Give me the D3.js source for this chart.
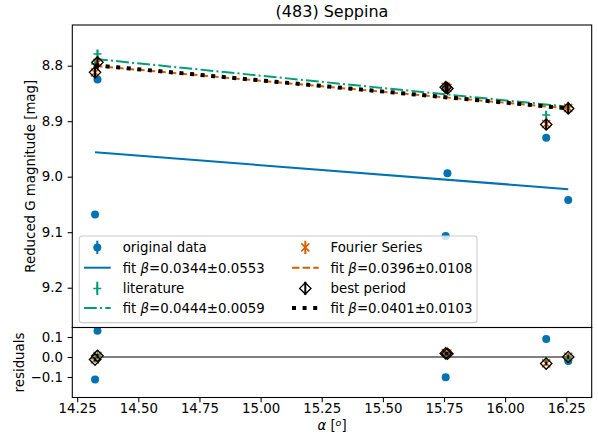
<!DOCTYPE html>
<html><head><meta charset="utf-8">
<script src="https://cdn.jsdelivr.net/npm/d3@7"></script>
<style>
body{margin:0;background:#fff}
svg{display:block}
text{font-family:"DejaVu Sans",sans-serif;fill:#000}
</style>
</head><body>
<svg id="chart" width="598" height="434"></svg>
<script>
// (483) Seppina: reduced G magnitude versus phase angle, with linear fits
const title = "(483) Seppina";
const alpha   = [14.323, 14.333, 15.757, 15.764, 16.168, 16.258];
const magOrig = [9.068, 8.825, 9.107, 8.994, 8.930, 9.042];
const errOrig = [0.003, 0.003, 0.003, 0.003, 0.003, 0.003];
const magLit  = [8.797, 8.779, 8.838, 8.840, 8.889, 8.874];
const errLit  = [0.007, 0.008, 0.007, 0.007, 0.008, 0.007];
const magFS   = [8.812, 8.795, 8.838, 8.840, 8.905, 8.876];
const errFS   = [0.011, 0.011, 0.011, 0.011, 0.011, 0.011];
const magBP   = [8.812, 8.794, 8.839, 8.841, 8.906, 8.877];
const errBP   = [0.009, 0.009, 0.009, 0.009, 0.009, 0.009];
// linear phase fits: mag = h + beta * alpha
const seriesNames = ["original data", "literature", "Fourier Series", "best period"];
const fitBeta = [0.0344, 0.0444, 0.0396, 0.0401];
const fitBetaErr = [0.0553, 0.0059, 0.0108, 0.0103];
const fitH = [8.4632, 8.1520, 8.2332, 8.2250];
const xTicks = [14.25, 14.50, 14.75, 15.00, 15.25, 15.50, 15.75, 16.00, 16.25];
const yTicksMain = [8.8, 8.9, 9.0, 9.1, 9.2];
const yTicksRes = [0.1, 0.0, -0.1];

const C = {blue:"#0072B2", green:"#009E73", orange:"#D55E00", black:"#000000", gray:"#808080"};
const series = [
  {mag: magOrig, err: errOrig, color: C.blue,   marker: "o", dash: null},
  {mag: magLit,  err: errLit,  color: C.green,  marker: "+", dash: "12.8,3.2,2,3.2"},
  {mag: magFS,   err: errFS,   color: C.orange, marker: "x", dash: "7.4,3.2"},
  {mag: magBP,   err: errBP,   color: C.black,  marker: "D", dash: "4,6.6"}
];
series.forEach((s, i) => {
  s.beta = fitBeta[i]; s.h = fitH[i];
  s.fit = a => s.h + s.beta * a;
  s.res = s.mag.map((m, j) => s.fit(alpha[j]) - m);
  s.lw = i === 3 ? 4 : 2;
});

const svg = d3.select("#chart");
const L = 72.3, R = 591.7, T1 = 25, B1 = 327.5, T2 = 327.5, B2 = 397.5;
const x = d3.scaleLinear().domain([14.23, 16.354]).range([L, R]);
const y = d3.scaleLinear().domain([8.7267, 9.2717]).range([T1, B1]);
const yr = d3.scaleLinear().domain([0.1475, -0.2025]).range([T2, B2]);

function clip(id, top, bot) {
  svg.append("clipPath").attr("id", id).append("rect")
    .attr("x", L).attr("y", top).attr("width", R - L).attr("height", bot - top);
}
clip("c1", T1, B1); clip("c2", T2, B2);

function drawMarker(g, kind, cx, cy, color) {
  if (kind === "o") {
    g.append("circle").attr("cx", cx).attr("cy", cy).attr("r", 4).attr("fill", color);
  } else if (kind === "+") {
    g.append("path").attr("d", `M${cx-4},${cy}H${cx+4}M${cx},${cy-4}V${cy+4}`)
      .attr("stroke", color).attr("stroke-width", 1.5).attr("fill", "none");
  } else if (kind === "x") {
    g.append("path").attr("d", `M${cx-4},${cy-4}L${cx+4},${cy+4}M${cx-4},${cy+4}L${cx+4},${cy-4}`)
      .attr("stroke", color).attr("stroke-width", 1.6).attr("fill", "none");
  } else if (kind === "D") {
    const h = 5.66;
    g.append("path").attr("d", `M${cx},${cy-h}L${cx+h},${cy}L${cx},${cy+h}L${cx-h},${cy}Z`)
      .attr("stroke", color).attr("stroke-width", 1.33).attr("fill", "none");
  }
}

function drawErrSeries(g, s, yScale, vals) {
  alpha.forEach((a, j) => {
    const cx = x(a), cy = yScale(vals[j]);
    const e = Math.abs(yScale(vals[j] + s.err[j]) - cy);
    g.append("line").attr("x1", cx).attr("x2", cx).attr("y1", cy - e).attr("y2", cy + e)
      .attr("stroke", s.color).attr("stroke-width", 2);
  });
  alpha.forEach((a, j) => drawMarker(g, s.marker, x(a), yScale(vals[j]), s.color));
}

// ---- main panel
const g1 = svg.append("g").attr("clip-path", "url(#c1)");
const xr = d3.extent(alpha);
series.forEach(s => {
  drawErrSeries(g1, s, y, s.mag);
  const p = g1.append("line")
    .attr("x1", x(xr[0])).attr("x2", x(xr[1]))
    .attr("y1", y(s.fit(xr[0]))).attr("y2", y(s.fit(xr[1])))
    .attr("stroke", s.color).attr("stroke-width", s.lw);
  if (s.dash) p.attr("stroke-dasharray", s.dash);
});

// ---- residual panel
const g2 = svg.append("g").attr("clip-path", "url(#c2)");
g2.append("line").attr("x1", x(xr[0])).attr("x2", x(xr[1]))
  .attr("y1", yr(0)).attr("y2", yr(0)).attr("stroke", C.gray).attr("stroke-width", 2);
series.forEach(s => drawErrSeries(g2, s, yr, s.res));

// ---- axes
function frame(top, bot) {
  svg.append("rect").attr("x", L).attr("y", top).attr("width", R - L).attr("height", bot - top)
    .attr("fill", "none").attr("stroke", "#000").attr("stroke-width", 1.07);
}
frame(T1, B1); frame(T2, B2);

const yAx1 = svg.append("g").attr("transform", `translate(${L},0)`)
  .call(d3.axisLeft(y).tickValues(yTicksMain).tickFormat(d3.format(".1f")).tickSize(4.67).tickPadding(4.67));
const yAx2 = svg.append("g").attr("transform", `translate(${L},0)`)
  .call(d3.axisLeft(yr).tickValues(yTicksRes).tickFormat(d3.format(".1f")).tickSize(4.67).tickPadding(4.67));
const xAx = svg.append("g").attr("transform", `translate(0,${B2})`)
  .call(d3.axisBottom(x).tickValues(xTicks).tickFormat(d3.format(".2f")).tickSize(4.67).tickPadding(1));
[yAx1, yAx2, xAx].forEach(a => {
  a.select(".domain").remove();
  a.selectAll("line").attr("stroke-width", 1.07);
  a.selectAll("text").attr("font-size", 13.33).attr("font-family", '"DejaVu Sans",sans-serif');
});

// titles and labels
svg.append("text").attr("x", (L + R) / 2).attr("y", 17).attr("text-anchor", "middle")
  .attr("font-size", 16).text(title);
svg.append("text").attr("transform", `translate(30,${(T1 + B1) / 2}) rotate(-90)`)
  .attr("text-anchor", "middle").attr("dominant-baseline", "central")
  .attr("font-size", 13.33).text("Reduced G magnitude [mag]");
svg.append("text").attr("transform", `translate(19,${(T2 + B2) / 2}) rotate(-90)`)
  .attr("text-anchor", "middle").attr("dominant-baseline", "central")
  .attr("font-size", 13.33).text("residuals");
const xl = svg.append("text").attr("x", (L + R) / 2).attr("y", 430).attr("text-anchor", "middle")
  .attr("font-size", 13.33);
xl.append("tspan").attr("font-style", "italic").text("α");
xl.append("tspan").text(" [");
xl.append("tspan").attr("font-style", "italic").attr("font-size", 9.5).attr("dy", -4.5).text("o");
xl.append("tspan").attr("dy", 4.5).text("]");

// ---- legend
const lg = svg.append("g");
lg.append("rect").attr("x", 79.3).attr("y", 236).attr("width", 397.7).attr("height", 86.6)
  .attr("rx", 2.7).attr("fill", "#fff").attr("fill-opacity", 0.8)
  .attr("stroke", "#cccccc").attr("stroke-width", 1.07);
const rowY = [247.4, 267.7, 288.4, 308.1];
const colX = [{h0: 84, t: 122.7}, {h0: 292, t: 330.5}];
series.forEach((s, i) => {
  const col = colX[Math.floor(i / 2)];
  const r0 = (i % 2) * 2;
  const hc = col.h0 + 13.3;
  // errorbar handle
  lg.append("line").attr("x1", hc).attr("x2", hc).attr("y1", rowY[r0] - 6.7).attr("y2", rowY[r0] + 6.7)
    .attr("stroke", s.color).attr("stroke-width", 2);
  drawMarker(lg, s.marker, hc, rowY[r0], s.color);
  lg.append("text").attr("x", col.t).attr("y", rowY[r0] + 4.8).attr("font-size", 13.33).text(seriesNames[i]);
  // fit line handle
  const fl = lg.append("line").attr("x1", col.h0).attr("x2", col.h0 + 26.7)
    .attr("y1", rowY[r0 + 1]).attr("y2", rowY[r0 + 1])
    .attr("stroke", s.color).attr("stroke-width", s.lw);
  if (s.dash) fl.attr("stroke-dasharray", s.dash);
  const t = lg.append("text").attr("x", col.t).attr("y", rowY[r0 + 1] + 4.8).attr("font-size", 13.33);
  t.append("tspan").text("fit ");
  t.append("tspan").attr("font-style", "italic").text("β");
  t.append("tspan").text("=" + fitBeta[i].toFixed(4) + "±" + fitBetaErr[i].toFixed(4));
});
</script>
</body></html>
